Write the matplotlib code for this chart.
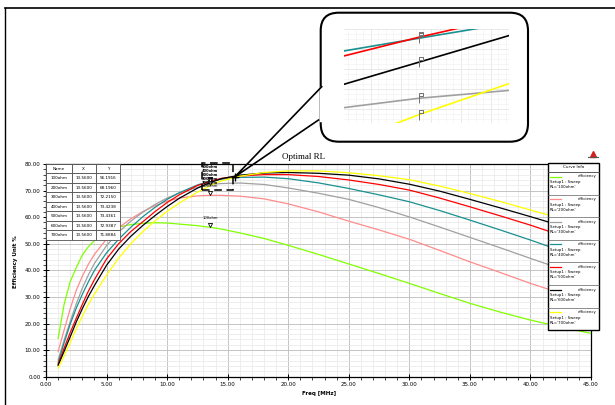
import matplotlib
matplotlib.use('Agg')
import matplotlib.pyplot as plt
import matplotlib.transforms as mtransforms
from matplotlib.patches import FancyBboxPatch, Rectangle
from matplotlib.path import Path
from matplotlib.ticker import MultipleLocator, FormatStrFormatter

# frequency sweep (MHz) and efficiency (%) for each load resistance
freq = [1, 1.5, 2, 2.5, 3, 3.5, 4, 5, 6, 7, 8, 9, 10, 11, 12.5, 13, 13.56, 14, 14.5,
        16, 18, 20, 22.5, 25, 27.5, 30, 32.5, 35, 37.5, 40, 42.5, 45]
eff_100 = [14.4, 27.3, 35.8, 41.0, 45.8, 48.9, 51.2, 54.5, 56.3, 57.2, 57.7, 57.9, 57.8, 57.4,
           56.8, 56.5, 56.19, 55.9, 55.5, 54.1, 52.0, 49.4, 46.0, 42.4, 38.8, 35.1, 31.3,
           27.6, 24.3, 21.3, 18.7, 16.3]
eff_200 = [9.4, 17.6, 25.6, 32.5, 37.8, 42.3, 46.0, 51.8, 56.0, 59.4, 62.1, 64.3, 66.0, 67.2,
           68.0, 68.15, 68.2, 68.22, 68.2, 67.9, 66.9, 65.0, 62.0, 58.5, 55.2, 51.7, 47.5,
           43.2, 39.2, 35.1, 31.4, 28.0]
eff_300 = [6.3, 13.8, 20.8, 27.4, 33.3, 38.3, 42.6, 49.3, 54.4, 58.5, 61.9, 64.8, 67.2, 69.1,
           71.2, 71.8, 72.22, 72.45, 72.65, 72.85, 72.3, 71.0, 69.0, 66.7, 63.6, 60.1, 56.3,
           52.4, 48.5, 44.5, 40.6, 37.0]
eff_400 = [5.2, 12.8, 19.8, 25.8, 31.0, 35.7, 40.0, 46.6, 51.7, 56.2, 60.2, 63.7, 66.7, 69.2,
           72.1, 72.85, 73.42, 73.86, 74.29, 74.97, 75.07, 74.47, 72.9, 70.8, 68.4, 65.8, 62.5,
           58.9, 55.2, 51.4, 47.4, 43.5]
eff_500 = [4.7, 10.8, 16.6, 22.0, 27.2, 32.2, 36.5, 44.3, 50.0, 54.6, 58.3, 62.1, 65.5, 68.4,
           71.9, 72.6, 73.44, 74.04, 74.6, 75.5, 76.0, 76.0, 75.3, 74.0, 72.3, 70.2, 67.2,
           63.9, 60.5, 57.0, 53.2, 49.4]
eff_600 = [4.2, 9.6, 15.0, 20.6, 25.6, 30.2, 34.3, 41.9, 48.0, 52.8, 56.9, 60.6, 64.0, 67.1,
           70.9, 71.95, 72.94, 73.72, 74.5, 75.8, 76.6, 76.8, 76.5, 75.8, 74.4, 72.4, 69.8,
           66.7, 63.5, 60.2, 56.8, 53.4]
eff_700 = [3.2, 7.8, 12.8, 18.0, 22.8, 27.2, 31.1, 38.2, 44.6, 50.0, 54.6, 58.6, 62.2, 65.3,
           69.4, 70.6, 71.89, 72.8, 73.65, 75.4, 76.8, 77.4, 77.4, 76.7, 75.6, 74.1, 71.7,
           68.9, 65.9, 62.7, 59.5, 56.3]

curves = [eff_100, eff_200, eff_300, eff_400, eff_500, eff_600, eff_700]
names = ['100ohm', '200ohm', '300ohm', '400ohm', '500ohm', '600ohm', '700ohm']
marker_freq = 13.56
table_x = ['13.5600'] * 7
table_y = ['56.1916', '68.1960', '72.2150', '73.4238', '73.4361', '72.9387', '71.8884']

colors = ['#80ff00', '#ff8c8c', '#a0a0a0', '#1a9090', '#ff0000', '#000000', '#ffff00']

W, H = 615, 405
fig = plt.figure(figsize=(W / 100, H / 100), dpi=100)


def fbox(x0, y0, x1, y1):
    # pixel box (top-left origin) -> figure fraction rect
    return [x0 / W, 1 - y1 / H, (x1 - x0) / W, (y1 - y0) / H]


# main plot
ax = fig.add_axes(fbox(46, 164, 591, 376.7))
for vals, c in zip(curves, colors):
    ax.plot(freq, vals, color=c, lw=0.9, zorder=3)

ax.set_xlim(0, 45)
ax.set_ylim(0, 80)
ax.xaxis.set_major_locator(MultipleLocator(5))
ax.xaxis.set_minor_locator(MultipleLocator(1))
ax.yaxis.set_major_locator(MultipleLocator(10))
ax.yaxis.set_minor_locator(MultipleLocator(2))
ax.xaxis.set_major_formatter(FormatStrFormatter('%.2f'))
ax.yaxis.set_major_formatter(FormatStrFormatter('%.2f'))
ax.grid(which='major', color='#c4c4c4', lw=0.7)
ax.grid(which='minor', color='#e8e8e8', lw=0.5)
ax.set_axisbelow(True)
ax.tick_params(which='major', direction='inout', length=4, width=0.7, labelsize=4, pad=2)
ax.tick_params(which='minor', direction='out', length=2, width=0.5)
for s in ax.spines.values():
    s.set_linewidth(0.9)

# markers at 13.56 MHz
idx = freq.index(marker_freq)
tri_off = mtransforms.offset_copy(ax.transData, fig=fig, y=2, units='points')
for vals in curves:
    ax.plot(marker_freq, vals[idx], marker='v', ms=3, mfc='white', mec='black',
            mew=0.6, transform=tri_off, zorder=6, clip_on=False)

# labels: the two low ones sit over their marker, the crowded ones are stacked
for vals, nm in zip(curves[:2], names[:2]):
    ax.annotate(nm, (marker_freq, vals[idx]), xytext=(0, 5), textcoords='offset points',
                ha='center', va='bottom', fontsize=2.7, zorder=7)
crowd = sorted(range(2, 7), key=lambda k: -curves[k][idx])
for rank, k in enumerate(crowd):
    ax.text(marker_freq, 78.9 - 1.5 * rank, names[k], ha='center', va='center',
            fontsize=2.6, fontweight='bold', zorder=7)

ax.add_patch(Rectangle((12.9, 70.2), 2.55, 10.1, fill=False, ls=(0, (5, 3)), lw=1.1,
                       ec='black', zorder=8, clip_on=False))

# marker table
rows = [[n, x, y] for n, x, y in zip(names, table_x, table_y)]
tbl = ax.table(cellText=rows, colLabels=['Name', 'X', 'Y'], cellLoc='center',
               colWidths=[0.35, 0.32, 0.33], bbox=[0.0, 0.643, 0.136, 0.357])
tbl.auto_set_font_size(False)
tbl.set_fontsize(3)
tbl.set_zorder(10)
for cell in tbl.get_celld().values():
    cell.set_linewidth(0.6)
    cell.set_edgecolor('#505050')

# overlay in pixel coordinates
ov = fig.add_axes([0, 0, 1, 1], zorder=5)
ov.set_xlim(0, W)
ov.set_ylim(H, 0)
ov.axis('off')

ov.plot([5, W], [8, 8], color='black', lw=1.2)
ov.plot([5, 5], [8, H], color='black', lw=1.0)

fig.text(304 / W, 1 - 157 / H, 'Optimal RL', family='Liberation Serif', fontsize=6.5,
         ha='center', va='center')
fig.text(319 / W, 1 - 393 / H, 'Freq [MHz]', fontsize=4, fontweight='bold',
         ha='center', va='center')
fig.text(15 / W, 1 - 262 / H, 'Efficiency Unit %', fontsize=4, fontweight='bold',
         rotation=90, ha='center', va='center')

# small logo mark top right
ov.plot(593, 154, marker='^', ms=4, color='#d02020')
ov.plot([588, 598], [157, 157], color='#555555', lw=0.8)

# legend box
ov.add_patch(Rectangle((548, 163), 51, 167, fc='white', ec='black', lw=1.0, zorder=3))
ov.plot([548, 599], [172, 172], color='#404040', lw=0.6, zorder=4)
ov.text(573.5, 167.5, 'Curve Info', fontsize=3, ha='center', va='center', zorder=4)
for i, (c, nm) in enumerate(zip(colors, names)):
    top = 172 + 22.6 * i
    ov.plot([550, 561], [top + 4.5, top + 4.5], color=c, lw=0.9, zorder=4)
    ov.text(596, top + 4.5, 'efficiency', fontsize=2.8, ha='right', va='center', zorder=4)
    ov.text(550, top + 10, 'Setup1 : Sweep', fontsize=2.8, ha='left', va='center', zorder=4)
    ov.text(550, top + 15, "RL='%s'" % nm, fontsize=2.8, ha='left', va='center', zorder=4)
    if i < len(names) - 1:
        ov.plot([548, 599], [top + 22.6, top + 22.6], color='#606060', lw=0.5, zorder=4)

# callout bubble
ov.add_patch(FancyBboxPatch((320.7, 12.7), 207.3, 129, boxstyle='round,pad=0,rounding_size=18',
                            fc='white', ec='black', lw=1.5, zorder=5))
ov.plot([320.7, 320.7], [87.5, 119.5], color='white', lw=2.5, zorder=6)
ov.plot([321.7, 235, 318.5], [86.7, 176.7, 120], color='black', lw=1.2, zorder=6)
ov.plot(235, 176.7, marker='+', ms=6, mew=1.0, color='black', zorder=6)

# zoomed view inside the bubble
axi = fig.add_axes(fbox(344.3, 29.3, 509.3, 123.3), zorder=6)
for vals, c in zip(curves, colors):
    axi.plot(freq, vals, color=c, lw=1.2)
flag = Path([(0, -1), (0, 1), (0.9, 1), (0.9, 0.45), (0, 0.45)],
            [Path.MOVETO, Path.LINETO, Path.LINETO, Path.LINETO, Path.LINETO])
for vals in curves[2:]:
    axi.plot(marker_freq, vals[idx], marker=flag, ms=7, mfc='none', mec='#707070', mew=0.7)
axi.set_xlim(13.3125, 13.8625)
axi.set_ylim(71.72, 73.6)
axi.xaxis.set_major_locator(MultipleLocator(0.1))
axi.xaxis.set_minor_locator(MultipleLocator(0.025))
axi.yaxis.set_major_locator(MultipleLocator(0.4))
axi.yaxis.set_minor_locator(MultipleLocator(0.1))
axi.grid(which='major', color='#e2e2e2', lw=0.5)
axi.grid(which='minor', color='#f0f0f0', lw=0.4)
axi.set_axisbelow(True)
axi.tick_params(which='both', length=0, labelbottom=False, labelleft=False)
for s in axi.spines.values():
    s.set_visible(False)

fig.savefig('out.png', dpi=100)
